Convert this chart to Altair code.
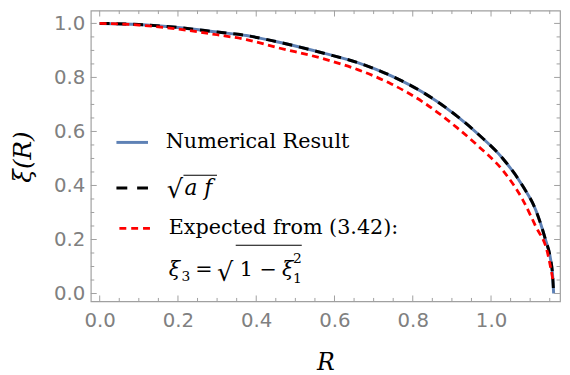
import altair as alt
import pandas as pd

# ---- data ----
num_R = [0.0, 0.1, 0.2, 0.3, 0.375, 0.45, 0.577, 0.661, 0.745, 0.829, 0.913, 0.971, 1.03, 1.081, 1.114, 1.139, 1.152, 1.157, 1.16]
num_xi = [1.0, 0.996, 0.985, 0.968, 0.955, 0.933, 0.888, 0.854, 0.806, 0.742, 0.657, 0.585, 0.500, 0.398, 0.310, 0.200, 0.128, 0.075, 0.0]

af_R = [0.0, 0.1, 0.2, 0.3, 0.375, 0.45, 0.577, 0.661, 0.745, 0.829, 0.913, 0.971, 1.03, 1.081, 1.114, 1.139, 1.152, 1.157, 1.16]
af_xi = [1.0, 0.996, 0.985, 0.968, 0.955, 0.933, 0.888, 0.854, 0.806, 0.742, 0.657, 0.585, 0.500, 0.398, 0.310, 0.200, 0.128, 0.075, 0.0]

exp_R = [0.0, 0.1, 0.2, 0.3, 0.375, 0.45, 0.577, 0.661, 0.745, 0.829, 0.913, 0.971, 1.03, 1.081, 1.114, 1.144, 1.159]
exp_xi = [1.0, 0.994, 0.979, 0.958, 0.940, 0.912, 0.867, 0.828, 0.776, 0.706, 0.614, 0.541, 0.456, 0.347, 0.249, 0.153, 0.044]

x_major = [0.0, 0.2, 0.4, 0.6, 0.8, 1.0]
x_minor = [0.05, 0.1, 0.15, 0.25, 0.3, 0.35, 0.45, 0.5, 0.55, 0.65, 0.7, 0.75, 0.85, 0.9, 0.95, 1.05, 1.1, 1.15]
y_major = [0.0, 0.2, 0.4, 0.6, 0.8, 1.0]
y_minor = [0.05, 0.1, 0.15, 0.25, 0.3, 0.35, 0.45, 0.5, 0.55, 0.65, 0.7, 0.75, 0.85, 0.9, 0.95]

W, H = 476, 295
XDOM = [-0.0227, 1.1763]
YDOM = [-0.0292, 1.0474]
GREY = "#a0a0a0"
LABEL = "#808080"
SERIF = "DejaVu Serif"

xs = alt.Scale(domain=XDOM, nice=False, zero=False)
ys = alt.Scale(domain=YDOM, nice=False, zero=False)

xaxis = alt.Axis(values=x_major, format=".1f", ticks=False, domain=False, grid=False,
                 labelFont="DejaVu Sans", labelFontSize=20, labelColor=LABEL, labelPadding=9,
                 labelFlush=False, title="R", titleFont=SERIF, titleFontStyle="italic",
                 titleFontWeight="normal", titleFontSize=24, titleColor="black",
                 titleY=69, titleBaseline="alphabetic")
yaxis = alt.Axis(values=y_major, format=".1f", ticks=False, domain=False, grid=False,
                 labelFont="DejaVu Sans", labelFontSize=20, labelColor=LABEL, labelPadding=6,
                 labelFlush=False, title="ξ(R)", titleFont=SERIF, titleFontStyle="italic",
                 titleFontWeight="normal", titleFontSize=25, titleColor="black",
                 titleX=-69, titleY=148, titleAngle=-90, titleAlign="center", titleBaseline="middle")

df_num = pd.DataFrame({"R": num_R, "xi": num_xi})
df_af = pd.DataFrame({"R": af_R, "xi": af_xi})
df_exp = pd.DataFrame({"R": exp_R, "xi": exp_xi})

blue = alt.Chart(df_num).mark_line(color="#5E81B5", strokeWidth=3, clip=True, interpolate="monotone").encode(
    x=alt.X("R:Q", scale=xs, axis=xaxis), y=alt.Y("xi:Q", scale=ys, axis=yaxis))
black = alt.Chart(df_af).mark_line(color="black", strokeWidth=3, strokeDash=[10, 7], clip=True, interpolate="monotone").encode(
    x=alt.X("R:Q", scale=xs), y=alt.Y("xi:Q", scale=ys))
red = alt.Chart(df_exp).mark_line(color="#FF0000", strokeWidth=2.8, strokeDash=[7, 4.5], clip=True, interpolate="monotone").encode(
    x=alt.X("R:Q", scale=xs), y=alt.Y("xi:Q", scale=ys))

# frame ticks (pointing inward, on all four sides)
def xticks(vals, length):
    d = pd.DataFrame({"v": vals})
    bot = alt.Chart(d).mark_rule(color=GREY, strokeWidth=1).encode(
        x=alt.X("v:Q", scale=xs), y=alt.value(H), y2=alt.value(H - length))
    top = alt.Chart(d).mark_rule(color=GREY, strokeWidth=1).encode(
        x=alt.X("v:Q", scale=xs), y=alt.value(0), y2=alt.value(length))
    return [bot, top]

def yticks(vals, length):
    d = pd.DataFrame({"v": vals})
    left = alt.Chart(d).mark_rule(color=GREY, strokeWidth=1).encode(
        y=alt.Y("v:Q", scale=ys), x=alt.value(0), x2=alt.value(length))
    right = alt.Chart(d).mark_rule(color=GREY, strokeWidth=1).encode(
        y=alt.Y("v:Q", scale=ys), x=alt.value(W), x2=alt.value(W - length))
    return [left, right]

ticks = xticks(x_major, 6) + xticks(x_minor, 3.5) + yticks(y_major, 6) + yticks(y_minor, 3.5)

# legend (drawn inside the plot, as in the reference)
one = pd.DataFrame({"k": [0]})

def hline(x1, x2, y, color, width, dash=None):
    kw = dict(color=color, strokeWidth=width)
    if dash:
        kw["strokeDash"] = dash
    return alt.Chart(one).mark_rule(**kw).encode(x=alt.value(x1), x2=alt.value(x2), y=alt.value(y))

def txt(s, x, y, size=21, style="normal", color="black"):
    return alt.Chart(one).mark_text(text=s, font=SERIF, fontSize=size, fontStyle=style,
                                    align="left", baseline="alphabetic", color=color).encode(
        x=alt.value(x), y=alt.value(y))

legend = [
    hline(26, 58, 133.7, "#5E81B5", 3),
    txt("Numerical Result", 76, 139),
    hline(26, 58, 180, "black", 3, [11, 10]),
    txt("√", 77, 190, size=26),
    txt("a f", 95, 187, style="italic", size=22),
    hline(94, 128, 167, "black", 1.2),
    hline(29, 61, 221, "#FF0000", 2.8, [7, 5]),
    txt("Expected from (3.42):", 79, 227),
    txt("ξ", 79, 269, style="italic"),
    txt("3", 92, 274, size=14),
    txt("=", 106, 269),
    txt("√", 128, 274, size=26),
    txt("1 − ", 151, 269),
    txt("ξ", 194, 269, style="italic"),
    txt("2", 205, 256, size=14),
    txt("1", 205, 276, size=14),
    hline(147, 214, 238, "black", 1.2),
]

chart = alt.layer(blue, black, red, *ticks, *legend).properties(
    width=W, height=H,
    autosize=alt.AutoSizeParams(type="none"),
    padding={"left": 84, "top": 0, "right": 2, "bottom": 72},
).configure_view(stroke=GREY, strokeWidth=1.2)

chart.save("out.html", embed_options={"renderer": "svg", "actions": False})
